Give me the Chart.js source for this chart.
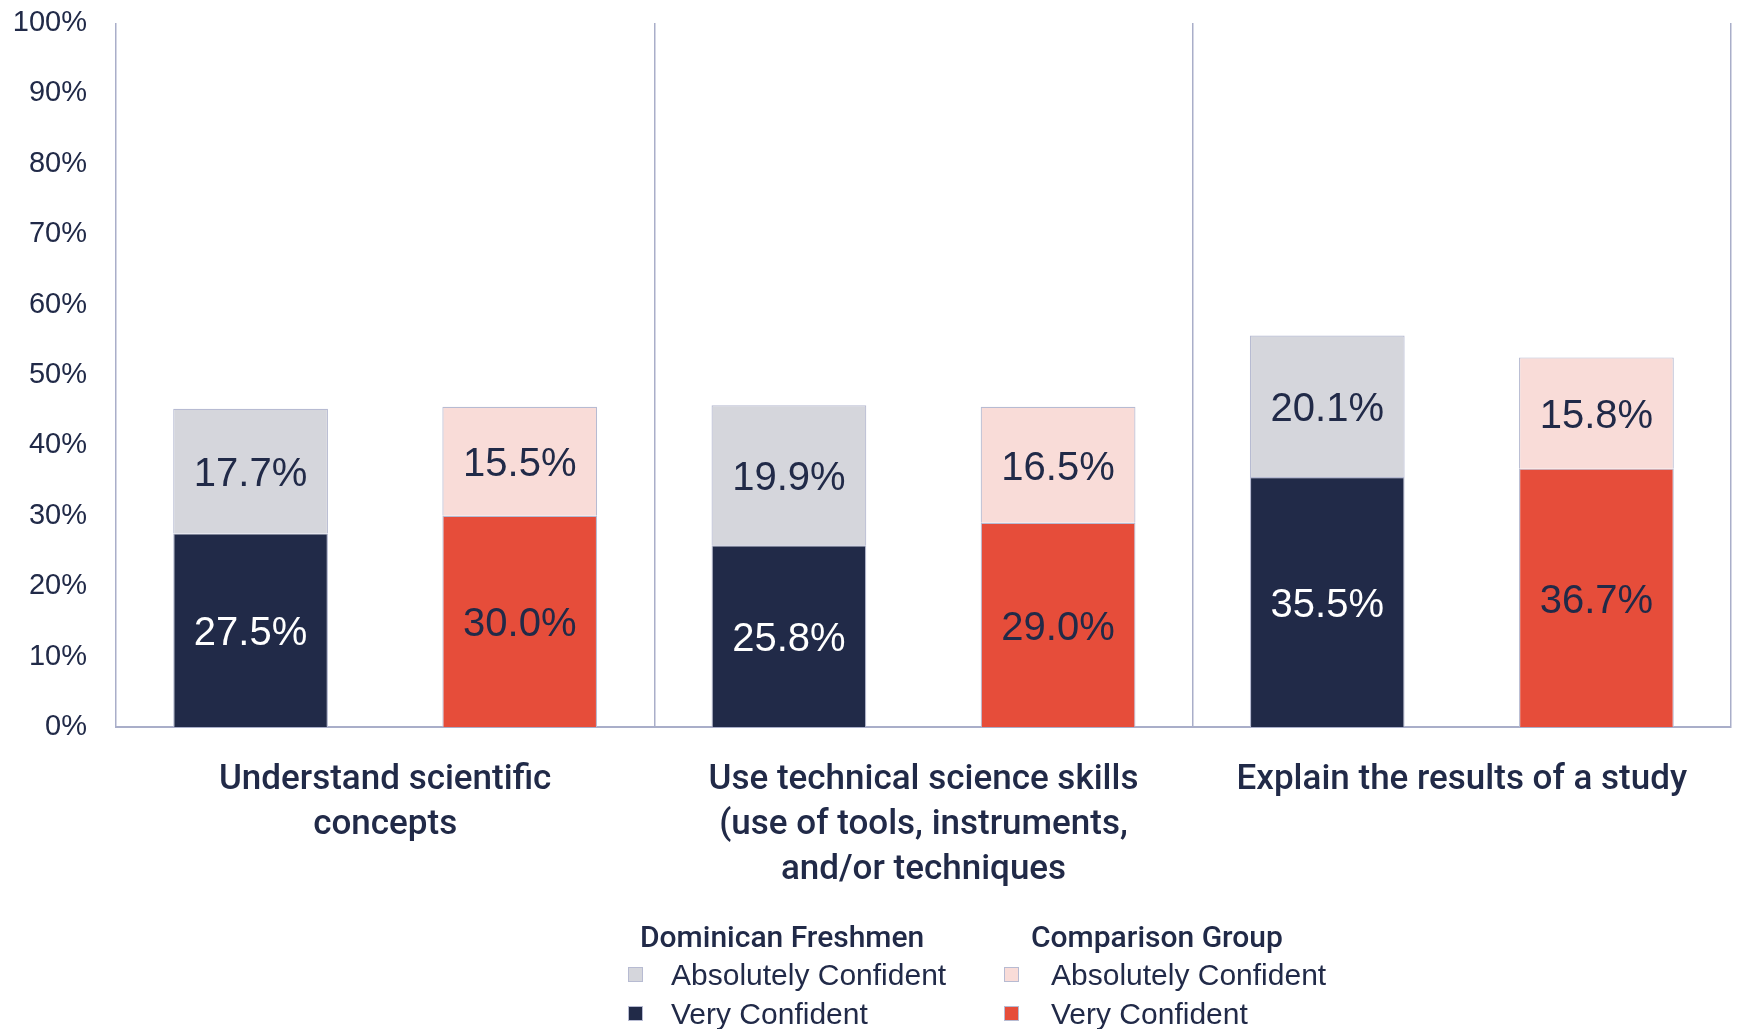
<!DOCTYPE html>
<html>
<head>
<meta charset="utf-8">
<script src="https://cdn.jsdelivr.net/npm/chart.js@4.4.0/dist/chart.umd.min.js"></script>
<style>
  html, body { margin: 0; padding: 0; background: #fff; }
  #wrap { position: relative; width: 1737px; height: 1029px; }
  .lg { position: absolute; color: #212a48; font-family: "Liberation Sans", Arial, sans-serif; white-space: nowrap; }
  .hd { font-family: Roboto, "Liberation Sans", sans-serif; font-size: 30px; font-weight: 500; line-height: 34px; }
  .it { font-size: 30px; line-height: 34px; }
  .sw { position: absolute; width: 15px; height: 15px; box-sizing: border-box; }
</style>
</head>
<body>
<div id="wrap">
  <canvas id="chart" width="1737" height="1029"></canvas>
</div>
<script>
const categories = [
    ["Understand scientific", "concepts"],
    ["Use technical science skills", "(use of tools, instruments,", "and/or techniques"],
    ["Explain the results of a study"]
];
const domVery = [27.5, 25.8, 35.5];
const domAbs = [17.7, 19.9, 20.1];
const cmpVery = [30.0, 29.0, 36.7];
const cmpAbs = [15.5, 16.5, 15.8];
const legendGroups = ["Dominican Freshmen", "Comparison Group"];
const legendItems = ["Absolutely Confident", "Very Confident"];

const navy = '#212a48';
const gray = '#d5d6dc';
const red = '#e64d3a';
const pink = '#f9dcd8';
const edge = '#b7bbd2';
const axisColor = '#a9aec9';

// draws the value in the middle of each bar segment
const barLabels = {
    id: 'barLabels',
    afterDatasetsDraw(chart) {
        const ctx = chart.ctx;
        ctx.save();
        ctx.font = '40px "Liberation Sans", Arial, sans-serif';
        ctx.textAlign = 'center';
        ctx.textBaseline = 'middle';
        chart.data.datasets.forEach((ds, i) => {
            chart.getDatasetMeta(i).data.forEach((bar, j) => {
                const p = bar.getProps(['x', 'y', 'base'], true);
                ctx.fillStyle = ds.labelColor;
                ctx.fillText(ds.data[j].toFixed(1) + '%', p.x, (p.y + p.base) / 2 + 4);
            });
        });
        ctx.restore();
    }
};

new Chart(document.getElementById('chart'), {
    type: 'bar',
    data: {
        labels: categories,
        datasets: [
            { label: 'Very Confident', data: domVery, stack: 'dom', backgroundColor: navy, borderColor: edge, labelColor: '#ffffff' },
            { label: 'Absolutely Confident', data: domAbs, stack: 'dom', backgroundColor: gray, borderColor: edge, labelColor: navy },
            { label: 'Very Confident', data: cmpVery, stack: 'cmp', backgroundColor: red, borderColor: edge, labelColor: navy },
            { label: 'Absolutely Confident', data: cmpAbs, stack: 'cmp', backgroundColor: pink, borderColor: edge, labelColor: navy }
        ]
    },
    options: {
        responsive: false,
        animation: false,
        datasets: {
            bar: { categoryPercentage: 1.0, barPercentage: 0.575, borderWidth: 1.2, borderSkipped: 'start' }
        },
        layout: { padding: { top: 23, right: 6, left: 0, bottom: 0 } },
        plugins: {
            legend: { display: false },
            tooltip: { enabled: false }
        },
        scales: {
            x: {
                stacked: true,
                grid: { offset: true, color: axisColor, lineWidth: 1.5, drawTicks: false },
                border: { display: true, color: axisColor, width: 2 },
                ticks: {
                    color: navy,
                    padding: 31,
                    maxRotation: 0,
                    font: { family: 'Roboto, "Liberation Sans", sans-serif', size: 35, weight: 500, lineHeight: '45px' }
                },
                afterFit(scale) { scale.height = 302; }
            },
            y: {
                stacked: true,
                min: 0,
                max: 100,
                grid: { display: false, drawTicks: false },
                border: { display: false },
                ticks: {
                    stepSize: 10,
                    color: navy,
                    padding: 29,
                    font: { family: '"Liberation Sans", Arial, sans-serif', size: 29, lineHeight: 1 },
                    callback: v => v + '%'
                },
                afterFit(scale) {
                    scale.width = 116;
                    scale.paddingTop = 0;
                    scale.paddingBottom = 0;
                }
            }
        }
    },
    plugins: [barLabels]
});

// legend under the chart, two groups side by side
const wrap = document.getElementById('wrap');
const groupX = [{ head: 640, sw: 628, text: 671 }, { head: 1031, sw: 1004, text: 1051 }];
const swatches = [[gray, navy], [pink, red]];
const rowY = [975, 1014];
legendGroups.forEach((g, gi) => {
    const h = document.createElement('div');
    h.className = 'lg hd';
    h.textContent = g;
    h.style.left = groupX[gi].head + 'px';
    h.style.top = (937 - 17) + 'px';
    wrap.appendChild(h);
    legendItems.forEach((t, ti) => {
        const s = document.createElement('div');
        s.className = 'sw';
        s.style.left = groupX[gi].sw + 'px';
        s.style.top = (rowY[ti] - 8) + 'px';
        s.style.background = swatches[gi][ti];
        s.style.border = '1px solid ' + edge;
        wrap.appendChild(s);
        const d = document.createElement('div');
        d.className = 'lg it';
        d.textContent = t;
        d.style.left = groupX[gi].text + 'px';
        d.style.top = (rowY[ti] - 17) + 'px';
        wrap.appendChild(d);
    });
});
</script>
</body>
</html>
